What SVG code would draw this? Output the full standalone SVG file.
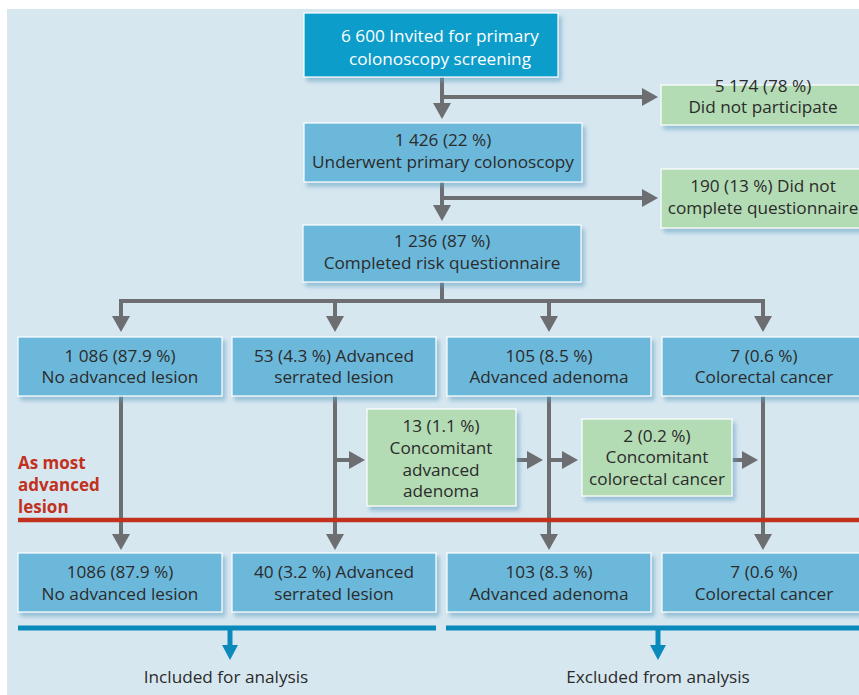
<svg xmlns="http://www.w3.org/2000/svg" width="859" height="695" viewBox="0 0 859 695">
<defs>
<style>
.t{font-family:"Open Sans","Liberation Sans",Arial,sans-serif;font-size:17.2px;fill:#2b2b2b;text-anchor:middle}
.w{fill:#ffffff}
.b{fill:#6cb8da;stroke:#ffffff;stroke-width:1.2}
.top{fill:#0b9dca;stroke:#ffffff;stroke-width:1.2}
.g{fill:#b3dbb4;stroke:#ffffff;stroke-width:1.2}
.c{fill:none;stroke:#6d6e71;stroke-width:4}
.bl{fill:none;stroke:#0a8abb;stroke-width:5}
.red{font-family:"Open Sans","Liberation Sans",Arial,sans-serif;font-size:17px;font-weight:bold;fill:#c1311e}
</style>
<marker id="ah" viewBox="0 0 16 18" refX="0" refY="9" markerWidth="16" markerHeight="18" markerUnits="userSpaceOnUse" orient="auto">
<path d="M0,0 L16,9 L0,18 Z" fill="#6d6e71"/>
</marker>
<marker id="bh" viewBox="0 0 15 16" refX="0" refY="8" markerWidth="15" markerHeight="16" markerUnits="userSpaceOnUse" orient="auto">
<path d="M0,0 L15,8 L0,16 Z" fill="#0a8abb"/>
</marker>
<filter id="sh" x="-10%" y="-20%" width="130%" height="150%">
<feDropShadow dx="3" dy="4" stdDeviation="2" flood-color="#5b9dbf" flood-opacity="0.55"/>
</filter>
</defs>
<rect x="0" y="0" width="859" height="695" fill="#ffffff"/>
<rect x="7" y="9" width="852" height="686" fill="#d7e7f0"/>

<g id="connectors">
<polyline class="c" points="442,77 442,103" marker-end="url(#ah)"/>
<polyline class="c" points="442,97 642,97" marker-end="url(#ah)"/>
<polyline class="c" points="442,182 442,205" marker-end="url(#ah)"/>
<polyline class="c" points="442,198 642,198" marker-end="url(#ah)"/>
<polyline class="c" points="442,282 442,301"/>
<polyline class="c" points="121,317 121,301 763,301 763,317"/>
<line class="c" x1="121" y1="301" x2="121" y2="316" marker-end="url(#ah)"/>
<line class="c" x1="335" y1="301" x2="335" y2="316" marker-end="url(#ah)"/>
<line class="c" x1="549" y1="301" x2="549" y2="316" marker-end="url(#ah)"/>
<line class="c" x1="763" y1="301" x2="763" y2="316" marker-end="url(#ah)"/>
<line class="c" x1="121" y1="396" x2="121" y2="534" marker-end="url(#ah)"/>
<line class="c" x1="335" y1="396" x2="335" y2="534" marker-end="url(#ah)"/>
<line class="c" x1="549" y1="396" x2="549" y2="534" marker-end="url(#ah)"/>
<line class="c" x1="763" y1="396" x2="763" y2="534" marker-end="url(#ah)"/>
<line class="c" x1="335" y1="460" x2="349" y2="460" marker-end="url(#ah)"/>
<line class="c" x1="516" y1="460" x2="527" y2="460" marker-end="url(#ah)"/>
<line class="c" x1="549" y1="460" x2="562" y2="460" marker-end="url(#ah)"/>
<line class="c" x1="732" y1="460" x2="742" y2="460" marker-end="url(#ah)"/>
<line x1="18" y1="520" x2="859" y2="520" stroke="#c1311e" stroke-width="4.5"/>
<line class="bl" x1="18" y1="628" x2="436" y2="628"/>
<line class="bl" x1="446" y1="628" x2="859" y2="628"/>
<line class="bl" x1="230" y1="628" x2="230" y2="645" stroke-width="4" marker-end="url(#bh)"/>
<line class="bl" x1="658" y1="628" x2="658" y2="645" stroke-width="4" marker-end="url(#bh)"/>
</g>

<g id="n-invited"><rect class="top" x="304" y="13" width="254" height="64" filter="url(#sh)"/>
<text class="t w" x="440" y="42">6 600 Invited for primary</text><text class="t w" x="440" y="65">colonoscopy screening</text></g>

<g id="n-notpart"><rect class="g" x="661" y="85" width="206" height="40" filter="url(#sh)"/>
<text class="t" x="763" y="92">5 174 (78 %)</text><text class="t" x="763" y="113">Did not participate</text></g>

<g id="n-underwent"><rect class="b" x="304" y="123" width="278" height="59" filter="url(#sh)"/>
<text class="t" x="443" y="146">1 426 (22 %)</text><text class="t" x="443" y="168">Underwent primary colonoscopy</text></g>

<g id="n-noquest"><rect class="g" x="661" y="169" width="206" height="59" filter="url(#sh)"/>
<text class="t" x="763" y="192">190 (13 %) Did not</text><text class="t" x="763" y="214">complete questionnaire</text></g>

<g id="n-completed"><rect class="b" x="303" y="225" width="278" height="57" filter="url(#sh)"/>
<text class="t" x="442" y="247">1 236 (87 %)</text><text class="t" x="442" y="269">Completed risk questionnaire</text></g>

<g id="n-r1-none"><rect class="b" x="18" y="337" width="204" height="59" filter="url(#sh)"/>
<text class="t" x="120" y="362">1 086 (87.9 %)</text><text class="t" x="120" y="383">No advanced lesion</text></g>
<g id="n-r1-serr"><rect class="b" x="232" y="337" width="204" height="59" filter="url(#sh)"/>
<text class="t" x="334" y="362">53 (4.3 %) Advanced</text><text class="t" x="334" y="383">serrated lesion</text></g>
<g id="n-r1-aden"><rect class="b" x="447" y="337" width="204" height="59" filter="url(#sh)"/>
<text class="t" x="549" y="362">105 (8.5 %)</text><text class="t" x="549" y="383">Advanced adenoma</text></g>
<g id="n-r1-crc"><rect class="b" x="662" y="337" width="204" height="59" filter="url(#sh)"/>
<text class="t" x="764" y="362">7 (0.6 %)</text><text class="t" x="764" y="383">Colorectal cancer</text></g>

<g id="n-conc-aden"><rect class="g" x="367" y="409" width="149" height="97" filter="url(#sh)"/>
<text class="t" x="441" y="432">13 (1.1 %)</text><text class="t" x="441" y="454">Concomitant</text><text class="t" x="441" y="476">advanced</text><text class="t" x="441" y="497">adenoma</text></g>
<g id="n-conc-crc"><rect class="g" x="582" y="419" width="150" height="77" filter="url(#sh)"/>
<text class="t" x="657" y="442">2 (0.2 %)</text><text class="t" x="657" y="463">Concomitant</text><text class="t" x="657" y="485">colorectal cancer</text></g>

<g id="label-most"><text class="red" x="18" y="469">As most</text><text class="red" x="18" y="491">advanced</text><text class="red" x="18" y="513">lesion</text></g>

<g id="n-r2-none"><rect class="b" x="18" y="553" width="204" height="59" filter="url(#sh)"/>
<text class="t" x="120" y="578">1086 (87.9 %)</text><text class="t" x="120" y="600">No advanced lesion</text></g>
<g id="n-r2-serr"><rect class="b" x="232" y="553" width="204" height="59" filter="url(#sh)"/>
<text class="t" x="334" y="578">40 (3.2 %) Advanced</text><text class="t" x="334" y="600">serrated lesion</text></g>
<g id="n-r2-aden"><rect class="b" x="447" y="553" width="204" height="59" filter="url(#sh)"/>
<text class="t" x="549" y="578">103 (8.3 %)</text><text class="t" x="549" y="600">Advanced adenoma</text></g>
<g id="n-r2-crc"><rect class="b" x="662" y="553" width="204" height="59" filter="url(#sh)"/>
<text class="t" x="764" y="578">7 (0.6 %)</text><text class="t" x="764" y="600">Colorectal cancer</text></g>

<g id="label-incl"><text class="t" x="226" y="683">Included for analysis</text></g>
<g id="label-excl"><text class="t" x="658" y="683">Excluded from analysis</text></g>
</svg>
